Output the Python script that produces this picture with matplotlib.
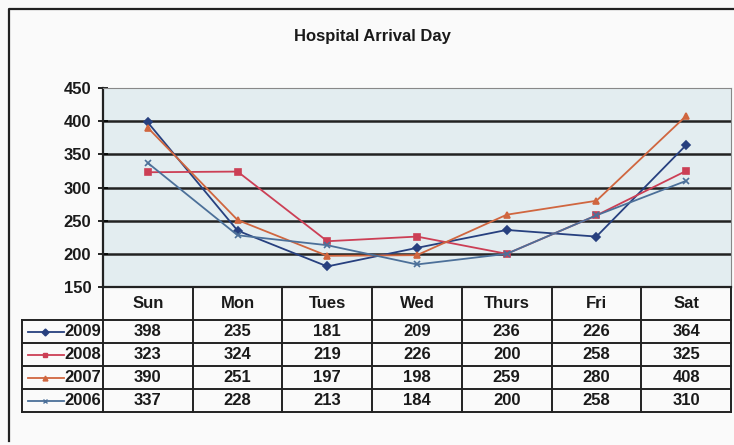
import matplotlib.pyplot as plt
import numpy as np

days = ["Sun", "Mon", "Tues", "Wed", "Thurs", "Fri", "Sat"]
years = ["2009", "2008", "2007", "2006"]
v2009 = [398, 235, 181, 209, 236, 226, 364]
v2008 = [323, 324, 219, 226, 200, 258, 325]
v2007 = [390, 251, 197, 198, 259, 280, 408]
v2006 = [337, 228, 213, 184, 200, 258, 310]
series = [v2009, v2008, v2007, v2006]
yticks = [150, 200, 250, 300, 350, 400, 450]

colors = ["#27407f", "#cc3f55", "#d0663f", "#4c7099"]
markers = ["D", "s", "^", "x"]
fam = ["Liberation Sans", "DejaVu Sans"]

W, H = 734, 445
fig = plt.figure(figsize=(W / 100, H / 100), dpi=100, facecolor="#fafafa")

def box(x0, y0, x1, y1):
    # pixel box (top-left origin) -> figure fraction
    return [x0 / W, 1 - y1 / H, (x1 - x0) / W, (y1 - y0) / H]

# outer chart border
frame = fig.add_axes([0, 0, 1, 1], facecolor="none")
frame.set_xlim(0, W)
frame.set_ylim(H, 0)
frame.axis("off")
frame.plot([9, 9, W + 5], [441, 9, 9], color="#222222", lw=1.6)
frame.text(372, 36, "Hospital Arrival Day", ha="center", va="center",
           fontsize=12, fontweight="heavy", family=fam, color="#1a1a1a")

# plot area
ax = fig.add_axes(box(103, 88, 731, 287), facecolor="#e3edf0")
x = np.arange(len(days))
for vals, c, m in zip(series, colors, markers):
    ax.plot(x, vals, color=c, lw=1.3, marker=m, ms=4, mew=1.2, zorder=3)
ax.set_xlim(-0.5, len(days) - 0.5)
ax.set_ylim(150, 450)
ax.set_yticks(yticks)
ax.set_yticklabels([str(t) for t in yticks], fontsize=12, fontweight="heavy",
                   family=fam, color="#1a1a1a")
ax.tick_params(axis="y", length=7, width=1.2, pad=5, direction="inout")
ax.set_xticks([])
for t in yticks[1:-1]:
    ax.axhline(t, color="#222222", lw=1.8, zorder=1)
for s in ["top", "right"]:
    ax.spines[s].set_color("#888888")
    ax.spines[s].set_linewidth(0.8)
ax.spines["left"].set_color("#222222")
ax.spines["left"].set_linewidth(1.6)
ax.spines["bottom"].set_visible(False)

# data table below the plot
col_w = (731 - 103) / len(days)
tb = fig.add_axes([0, 0, 1, 1], facecolor="none")
tb.set_xlim(0, W)
tb.set_ylim(H, 0)
tb.axis("off")
row_y = [287, 320, 343, 366, 389, 412]
lc = "#222222"
tb.plot([103, 731], [287, 287], color=lc, lw=1.6)
tb.plot([22, 731], [320, 320], color=lc, lw=1.4)
for yy in row_y[2:]:
    tb.plot([22, 731], [yy, yy], color=lc, lw=1.4)
tb.plot([22, 22], [320, 412], color=lc, lw=1.4)
for i in range(len(days) + 1):
    xx = 103 + i * col_w
    tb.plot([xx, xx], [287, 412], color=lc, lw=1.4)

fkw = dict(fontsize=12, fontweight="heavy", family=fam,
           color="#1a1a1a", ha="center", va="center")
for i, d in enumerate(days):
    tb.text(103 + (i + 0.5) * col_w, 303.5, d, **fkw)
for r, (yr, vals, c, m) in enumerate(zip(years, series, colors, markers)):
    yc = (row_y[r + 1] + row_y[r + 2]) / 2
    tb.plot([28, 64], [yc, yc], color=c, lw=1.3)
    tb.plot([45], [yc], marker=m, color=c, ms=3.5, mew=1.0)
    tb.text(101, yc, yr, **dict(fkw, ha="right"))
    for i, v in enumerate(vals):
        tb.text(103 + (i + 0.5) * col_w, yc, str(v), **fkw)

fig.savefig("out.png", dpi=100, facecolor=fig.get_facecolor())
